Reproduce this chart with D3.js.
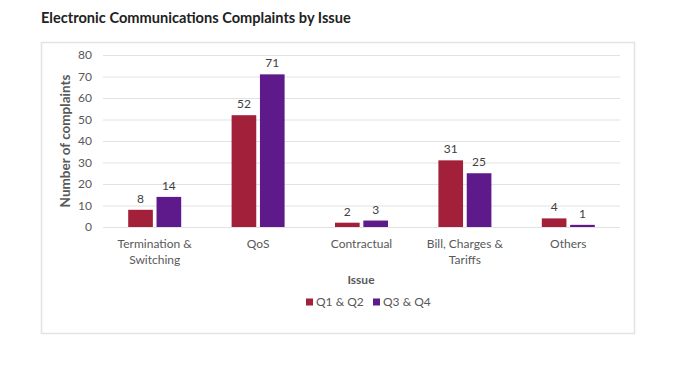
<!DOCTYPE html>
<html>
<head>
<meta charset="utf-8">
<script src="https://cdn.jsdelivr.net/npm/d3@7"></script>
<style>
  body { margin: 0; background: #fff; }
  text { font-family: Lato, "Open Sans", sans-serif; }
</style>
</head>
<body>
<svg id="chart"></svg>
<script>
const width = 684;
const height = 365;

const categories = [["Termination &", "Switching"], ["QoS"], ["Contractual"], ["Bill, Charges &", "Tariffs"], ["Others"]];
const seriesNames = ["Q1 & Q2", "Q3 & Q4"];
const firstHalf = [8, 52, 2, 31, 4];
const secondHalf = [14, 71, 3, 25, 1];
const yTicks = [0, 10, 20, 30, 40, 50, 60, 70, 80];
const colors = ["#A3203B", "#5E198A"];

const svg = d3.select("#chart")
  .attr("width", width)
  .attr("height", height);

// title
svg.append("text")
  .attr("x", 41)
  .attr("y", 23)
  .attr("font-size", 14.6)
  .attr("font-weight", "bold")
  .attr("fill", "#222")
  .text("Electronic Communications Complaints by Issue");

// chart frame
svg.append("rect")
  .attr("x", 41.5)
  .attr("y", 42.5)
  .attr("width", 593)
  .attr("height", 291)
  .attr("fill", "none")
  .attr("stroke", "#e3e3e3")
  .attr("stroke-width", 1.5);

const keys = categories.map((c, i) => i);

const x = d3.scaleBand()
  .domain(keys)
  .range([103, 620]);

const y = d3.scaleLinear()
  .domain([0, 80])
  .range([227, 55]);

const inner = d3.scaleBand()
  .domain([0, 1])
  .range([0, 53])
  .paddingInner(0.13);

// gridlines
svg.append("g")
  .selectAll("line")
  .data(yTicks)
  .enter()
  .append("line")
  .attr("x1", 103)
  .attr("x2", 620)
  .attr("y1", d => y(d) + 0.5)
  .attr("y2", d => y(d) + 0.5)
  .attr("stroke", "#e2e2e2")
  .attr("stroke-width", 1);

// y axis
const yAxis = d3.axisLeft(y).tickValues(yTicks).tickSize(0).tickPadding(0);
svg.append("g")
  .attr("transform", "translate(92, 0)")
  .call(yAxis)
  .call(g => g.select(".domain").remove())
  .call(g => g.selectAll("text")
    .attr("font-size", 12)
    .attr("fill", "#595959")
    .style("font-family", "Lato, sans-serif"));

// x axis labels
const xAxis = d3.axisBottom(x).tickSize(0).tickFormat("");
const xg = svg.append("g")
  .attr("transform", `translate(0, ${y(0)})`)
  .call(xAxis);
xg.select(".domain").remove();
xg.selectAll(".tick")
  .append("text")
  .attr("text-anchor", "middle")
  .attr("font-size", 12)
  .attr("fill", "#595959")
  .selectAll("tspan")
  .data(d => categories[d])
  .enter()
  .append("tspan")
  .attr("x", 0)
  .attr("y", (d, i) => 21 + i * 15.5)
  .text(d => d);

const data = keys.map(i => ({ i, values: [firstHalf[i], secondHalf[i]] }));

const groups = svg.selectAll(".group")
  .data(data)
  .enter()
  .append("g")
  .attr("class", "group")
  .attr("transform", d => `translate(${x(d.i) + x.bandwidth() / 2 - 26.5}, 0)`);

groups.selectAll("rect")
  .data(d => d.values)
  .enter()
  .append("rect")
  .attr("x", (d, j) => inner(j))
  .attr("y", d => y(d))
  .attr("width", inner.bandwidth())
  .attr("height", d => y(0) - y(d))
  .attr("fill", (d, j) => colors[j]);

groups.selectAll(".lbl")
  .data(d => d.values)
  .enter()
  .append("text")
  .attr("class", "lbl")
  .attr("x", (d, j) => inner(j) + inner.bandwidth() / 2)
  .attr("y", d => y(d) - 7)
  .attr("text-anchor", "middle")
  .attr("font-size", 12)
  .attr("fill", "#404040")
  .text(d => d);

// axis titles
svg.append("text")
  .attr("transform", `translate(70, ${(y(0) + y(80)) / 2}) rotate(-90)`)
  .attr("text-anchor", "middle")
  .attr("font-size", 13.5)
  .attr("font-weight", "bold")
  .attr("fill", "#595959")
  .text("Number of complaints");

svg.append("text")
  .attr("x", 361)
  .attr("y", 284)
  .attr("text-anchor", "middle")
  .attr("font-size", 12)
  .attr("font-weight", "bold")
  .attr("fill", "#595959")
  .text("Issue");

// legend
const legend = svg.append("g")
  .attr("transform", "translate(306, 306)");

const items = legend.selectAll("g")
  .data(seriesNames)
  .enter()
  .append("g")
  .attr("transform", (d, i) => `translate(${i * 67}, 0)`);

items.append("rect")
  .attr("x", 0)
  .attr("y", -7.5)
  .attr("width", 7)
  .attr("height", 7)
  .attr("fill", (d, i) => colors[i]);

items.append("text")
  .attr("x", 10)
  .attr("y", 0)
  .attr("font-size", 12)
  .attr("fill", "#595959")
  .text(d => d);
</script>
</body>
</html>
